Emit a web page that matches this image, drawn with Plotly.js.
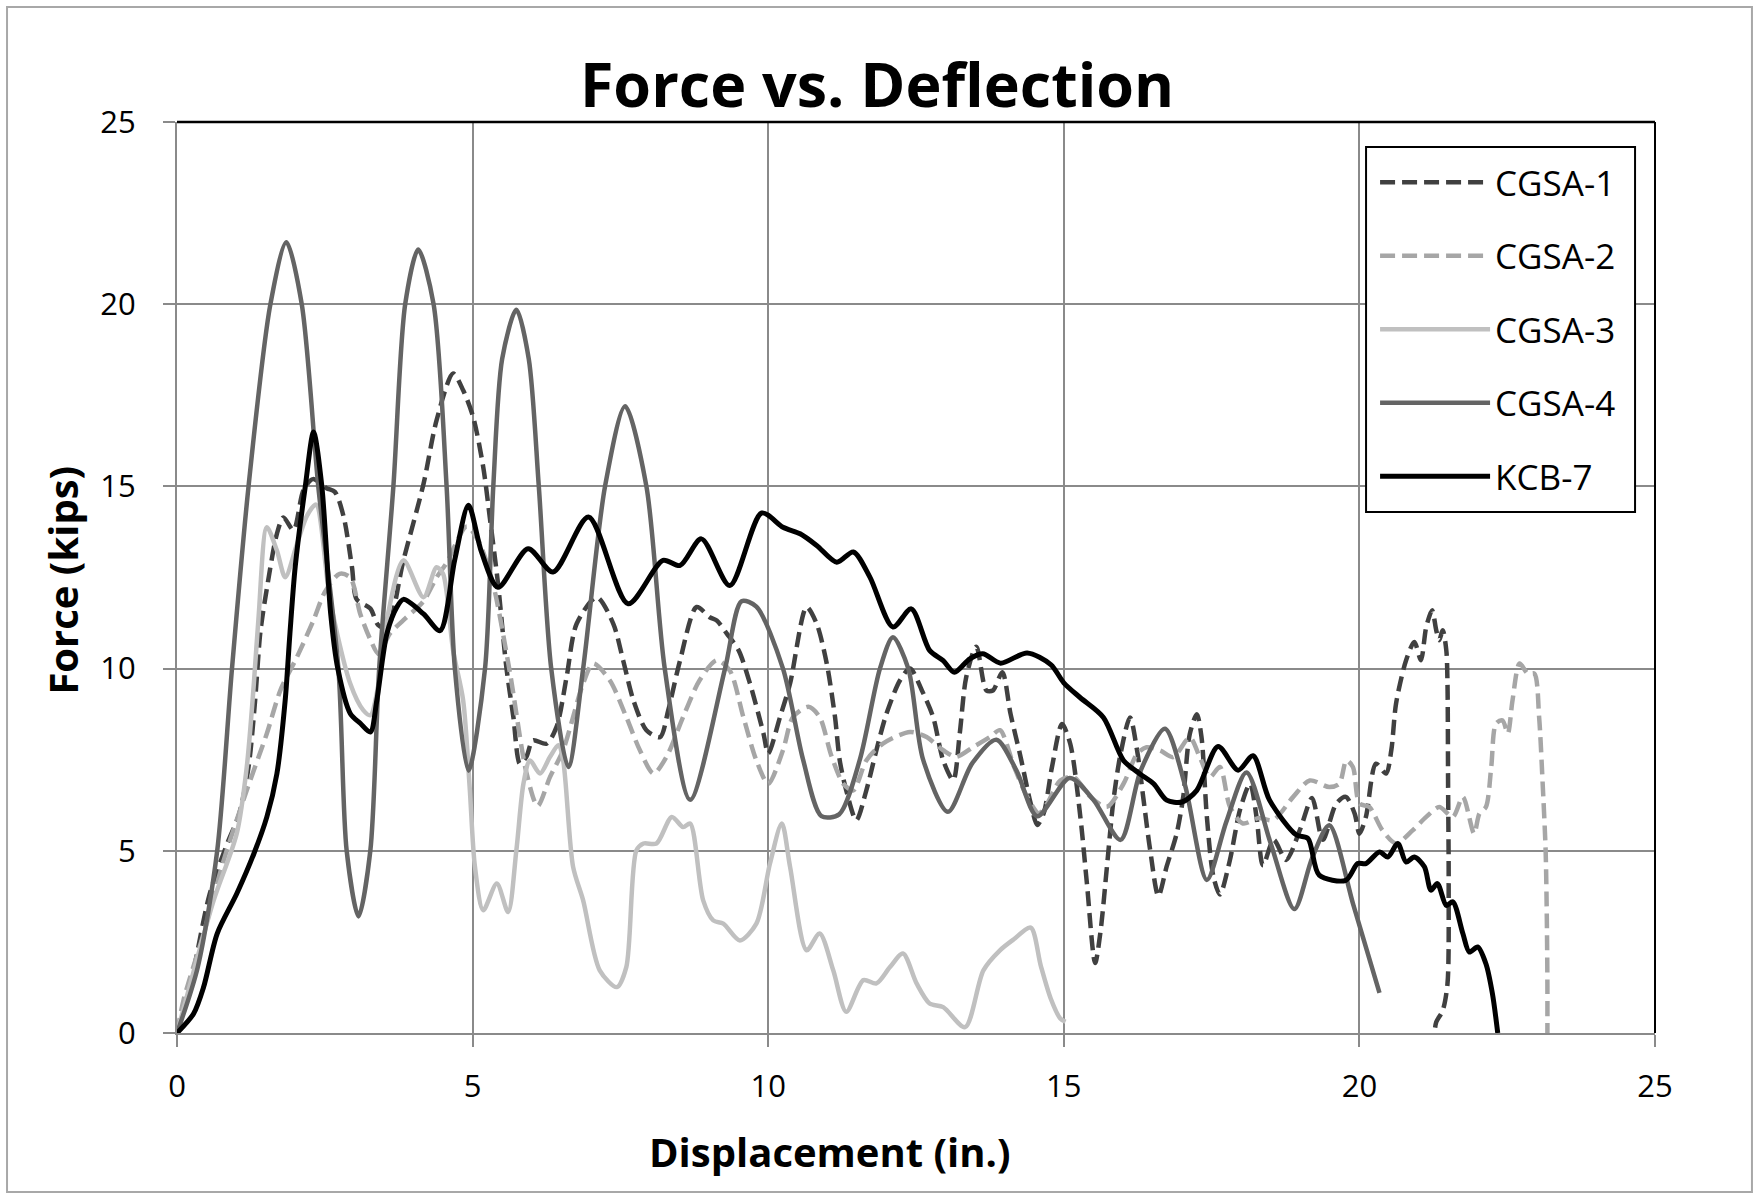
<!DOCTYPE html>
<html>
<head>
<meta charset="utf-8">
<script src="https://cdn.plot.ly/plotly-3.0.1.min.js"></script>
<style>
  html, body { margin: 0; padding: 0; background: #fff; }
  #chart { width: 1754px; height: 1193px; }
</style>
</head>
<body>
<div id="chart"></div>
<script>
// ---- Data (displacement in., force kips) ----
const seriesNames = ['CGSA-1', 'CGSA-2', 'CGSA-3', 'CGSA-4', 'KCB-7'];

const cgsa1X = [0,0.25,0.55,0.85,1.05,1.21,1.32,1.41,1.52,1.69,1.8,1.97,2.14,2.3,2.53,2.67,2.82,2.96,3.04,3.27,3.4,3.55,3.83,4.17,4.39,4.67,4.84,5.01,5.18,5.29,5.43,5.57,5.69,5.8,5.91,6.02,6.25,6.42,6.59,6.76,7.1,7.38,7.55,7.72,7.94,8.17,8.31,8.51,8.79,9.01,9.13,9.3,9.5,9.69,9.92,10.0,10.2,10.37,10.65,10.82,10.99,11.13,11.21,11.32,11.49,11.66,11.83,12.0,12.23,12.4,12.6,12.79,12.96,13.13,13.24,13.35,13.52,13.69,13.8,13.96,14.1,14.27,14.44,14.55,14.66,14.8,14.97,15.11,15.28,15.39,15.53,15.62,15.73,15.84,15.96,16.12,16.24,16.35,16.46,16.6,16.74,16.91,17.02,17.13,17.25,17.33,17.42,17.53,17.64,17.81,17.98,18.15,18.26,18.37,18.55,18.76,19.0,19.2,19.38,19.61,19.77,19.92,20.0,20.11,20.28,20.45,20.54,20.62,20.79,20.93,21.04,21.13,21.23,21.3,21.35,21.41,21.47,21.49,21.5,21.51,21.49,21.41,21.3,21.27];
const cgsa1Y = [0,1.5,3.8,5.2,6.0,7.3,9.1,11.0,12.2,13.7,14.15,13.8,14.9,15.2,14.95,14.85,14.16,12.78,11.9,11.65,11.2,11.1,12.97,15.07,16.81,18.1,17.64,16.9,15.53,14.16,12.33,10.05,8.67,7.39,7.58,8.03,7.94,8.4,9.77,11.23,11.96,11.23,10.2,9.13,8.31,8.12,8.86,10.23,11.69,11.41,11.32,10.96,10.5,9.6,8.22,7.67,8.67,9.59,11.69,11.23,10.14,8.67,7.48,6.66,5.84,6.66,7.76,8.76,9.68,10.0,9.4,8.67,7.48,6.94,8.22,9.77,10.6,9.4,9.4,9.9,8.75,7.57,6.3,5.71,6.03,7.3,8.48,7.93,5.93,4.12,1.92,2.77,4.57,6.39,7.66,8.66,7.75,6.39,5.03,3.76,4.57,5.48,6.48,8.2,8.75,8.11,5.93,4.3,3.8,4.75,6.12,6.84,5.93,4.6,5.3,4.75,5.6,6.45,5.3,6.3,6.48,6.02,5.47,5.93,7.39,7.12,7.76,9.04,10.23,10.73,10.23,11.14,11.6,11.05,10.78,11.05,10.5,9.59,6.84,4.1,1.35,0.62,0.3,0];

const cgsa2X = [0,0.11,0.45,0.79,1.18,1.52,1.75,2.03,2.31,2.5,2.75,2.93,3.1,3.27,3.41,3.6,3.83,4.17,4.39,4.56,4.9,5.1,5.34,5.63,5.91,6.1,6.31,6.53,6.87,7.04,7.32,7.6,7.83,8.06,8.28,8.56,8.84,9.13,9.35,9.58,9.8,10.0,10.25,10.42,10.68,10.87,11.07,11.27,11.44,11.66,11.94,12.4,12.68,12.96,13.18,13.47,13.75,13.92,14.16,14.38,14.58,14.72,14.94,15.17,15.45,15.73,16.01,16.24,16.4,16.63,16.85,17.13,17.3,17.47,17.64,17.81,18.03,18.3,18.54,18.88,19.16,19.49,19.66,19.78,19.89,20.0,20.17,20.39,20.62,20.9,21.13,21.35,21.58,21.75,21.94,22.03,22.14,22.23,22.31,22.42,22.51,22.59,22.71,22.85,22.96,23.04,23.1,23.15,23.17,23.18,23.18];
const cgsa2Y = [0,0.9,2.73,4.74,6.66,8.22,9.41,10.32,11.33,12.1,12.6,12.5,11.5,10.8,10.4,10.96,11.33,11.85,12.5,12.9,13.9,13.5,12.36,9.9,7.15,6.23,7.03,7.76,9.59,10.14,9.68,8.67,7.76,7.12,7.58,8.67,9.68,10.23,9.95,8.67,7.48,6.84,7.76,8.67,8.95,8.67,7.6,6.84,6.66,7.48,7.94,8.26,8.12,7.76,7.58,7.85,8.12,8.31,7.3,6.48,6.03,6.3,6.93,7.02,6.48,6.21,6.84,7.66,7.84,7.75,7.57,8.11,7.57,7.02,7.3,6.21,5.75,5.9,5.84,6.48,6.93,6.75,6.84,7.48,7.3,6.3,6.2,5.56,5.2,5.56,5.93,6.2,5.93,6.48,5.47,6.02,6.2,7.3,8.49,8.58,8.22,9.13,10.14,9.86,9.86,8.67,6.84,5.01,3.18,1.35,0];

const cgsa3X = [0,0.3,0.62,1.01,1.18,1.3,1.38,1.52,1.69,1.83,2.03,2.2,2.35,2.59,2.93,3.15,3.27,3.41,3.55,3.83,4.17,4.39,4.5,4.67,4.84,4.95,5.04,5.18,5.41,5.6,5.74,5.86,5.97,6.14,6.31,6.45,6.53,6.7,6.87,7.15,7.44,7.6,7.77,7.89,8.11,8.37,8.56,8.68,8.9,9.07,9.24,9.52,9.8,10.03,10.23,10.37,10.65,10.87,11.1,11.32,11.61,11.83,12.06,12.28,12.51,12.73,12.96,13.33,13.64,13.92,14.16,14.44,14.61,14.78,14.94,15.03];
const cgsa3Y = [0,1.8,3.64,5.47,7.3,9.59,11.42,13.88,13.24,12.51,13.42,14.2,14.5,11.87,9.59,8.86,8.72,9.59,11.33,12.97,11.96,12.78,12.6,10.5,9.13,6.75,4.56,3.37,4.1,3.32,5.01,6.84,7.48,7.12,7.58,7.9,7.5,4.56,3.64,1.72,1.26,1.81,5.01,5.2,5.2,5.93,5.65,5.75,3.64,3.09,3.0,2.54,3.0,4.65,5.75,4.56,2.27,2.73,1.72,0.58,1.45,1.36,1.81,2.18,1.36,0.81,0.71,0.16,1.72,2.27,2.58,2.89,1.85,0.94,0.4,0.31];

const cgsa4X = [0,0.35,0.68,0.93,1.21,1.58,1.85,2.11,2.39,2.73,2.87,3.07,3.27,3.42,3.66,3.86,4.08,4.34,4.56,4.70,4.93,5.21,5.35,5.5,5.74,5.95,6.12,6.33,6.62,6.87,7.24,7.58,7.94,8.25,8.68,9.27,9.55,9.8,10.25,10.59,10.9,11.2,11.55,11.89,12.11,12.37,12.62,13.04,13.45,13.86,14.2,14.55,15.1,15.5,15.96,16.3,16.71,17.05,17.42,17.75,18.09,18.5,18.9,19.2,19.49,19.9,20.34];
const cgsa4Y = [0,1.8,5,10,15,20,21.7,20,15,10,5,3.2,5,10,15,20,21.5,20,15,10,7.2,10,15,18.5,19.85,18.5,15,10,7.3,10,15,17.2,15,10,6.4,10,11.85,11.7,10,7.5,5.95,6.0,7.5,10,10.86,10,7.5,6.07,7.4,8.05,7.2,5.95,7.0,6.4,5.3,7.2,8.35,6.8,4.2,5.8,7.15,5.2,3.4,4.8,5.7,3.5,1.1];

const kcb7X = [0,0.28,0.45,0.68,1.01,1.30,1.52,1.69,1.83,1.91,2.0,2.17,2.31,2.45,2.6,2.72,2.93,3.1,3.27,3.38,3.55,3.72,3.83,4.17,4.45,4.7,4.93,5.15,5.43,5.94,6.36,6.96,7.63,8.22,8.51,8.87,9.35,9.89,10.25,10.54,10.82,11.16,11.44,11.72,12.11,12.42,12.73,12.96,13.15,13.41,13.63,13.93,14.38,14.78,15.0,15.28,15.67,16.01,16.29,16.52,16.74,17.0,17.25,17.61,17.95,18.2,18.48,18.93,19.13,19.32,19.77,19.97,20.11,20.34,20.48,20.65,20.79,20.93,21.1,21.21,21.32,21.47,21.58,21.75,21.86,22.0,22.14,22.25,22.34];
const kcb7Y = [0,0.53,1.26,2.73,3.82,4.92,5.93,7.12,9.13,10.96,12.8,15,16.49,15,11.5,10,8.77,8.5,8.26,9.13,10.96,11.69,11.9,11.5,11.04,13.0,14.48,13.2,12.23,13.29,12.65,14.16,11.78,12.97,12.83,13.56,12.28,14.27,13.88,13.7,13.38,12.92,13.2,12.51,11.14,11.64,10.5,10.22,9.9,10.27,10.41,10.15,10.43,10.11,9.61,9.2,8.66,7.48,7.11,6.84,6.39,6.34,6.66,7.86,7.21,7.61,6.39,5.44,5.34,4.33,4.19,4.65,4.65,4.97,4.83,5.2,4.69,4.83,4.56,3.92,4.1,3.5,3.6,2.73,2.22,2.36,1.9,1.08,0];

const axisTicks = [0, 5, 10, 15, 20, 25];
const titleText = 'Force vs. Deflection';
const xTitleText = 'Displacement (in.)';
const yTitleText = 'Force (kips)';

// ---- Styling ----
const FONT = 'Open Sans, Noto Sans, Liberation Sans, sans-serif';
const styles = [
  {color: '#404040', dash: '15px,7px', width: 4.5},
  {color: '#a6a6a6', dash: '15px,7px', width: 4.5},
  {color: '#c0c0c0', dash: 'solid', width: 4.5},
  {color: '#646464', dash: 'solid', width: 4.5},
  {color: '#000000', dash: 'solid', width: 5}
];
const xs = [cgsa1X, cgsa2X, cgsa3X, cgsa4X, kcb7X];
const ys = [cgsa1Y, cgsa2Y, cgsa3Y, cgsa4Y, kcb7Y];

const traces = seriesNames.map((name, i) => ({
  type: 'scatter',
  mode: 'lines',
  name: name,
  legendgroup: 'g' + i,
  x: xs[i],
  y: ys[i],
  line: {color: styles[i].color, dash: styles[i].dash, width: styles[i].width, shape: 'spline', smoothing: 0.8},
  hoverinfo: 'skip'
}));

const gridColor = '#8a8a8a';

const layout = {
  width: 1754,
  height: 1193,
  margin: {l: 177, r: 99, t: 122, b: 160, pad: 0},
  paper_bgcolor: '#ffffff',
  plot_bgcolor: '#ffffff',
  font: {family: FONT, color: '#000'},
  showlegend: true,
  title: {
    text: '<b>' + titleText + '</b>',
    font: {family: FONT, size: 61, color: '#000'},
    x: 0.5, xref: 'container', xanchor: 'center',
    y: 0.928, yref: 'container', yanchor: 'middle'
  },
  xaxis: {
    range: [0, 25],
    tickvals: axisTicks,
    ticktext: axisTicks.map(String),
    showgrid: true, gridcolor: gridColor, gridwidth: 2,
    showline: true, linecolor: gridColor, linewidth: 2,
    ticks: 'outside', ticklen: 12, tickwidth: 2, tickcolor: gridColor,
    ticklabelstandoff: 13,
    tickfont: {family: FONT, size: 31, color: '#000'},
    zeroline: false, fixedrange: true
  },
  yaxis: {
    range: [0, 25],
    tickvals: axisTicks,
    ticktext: axisTicks.map(String),
    showgrid: true, gridcolor: gridColor, gridwidth: 2,
    showline: true, linecolor: gridColor, linewidth: 2,
    ticks: 'outside', ticklen: 12, tickwidth: 2, tickcolor: gridColor,
    ticklabelstandoff: 21,
    tickfont: {family: FONT, size: 31, color: '#000'},
    zeroline: false, fixedrange: true
  },
  legend: {
    x: 0.8106, y: 0.966, xanchor: 'left', yanchor: 'top',
    xref: 'paper', yref: 'paper',
    bgcolor: 'rgba(0,0,0,0)', borderwidth: 0,
    font: {family: FONT, size: 35, color: '#000'},
    itemwidth: 110,
    tracegroupgap: 25,
    traceorder: 'grouped'
  },
  annotations: [
    {
      text: '<b>' + xTitleText + '</b>', xref: 'paper', yref: 'paper',
      x: 0.4418, y: -0.1306, xanchor: 'center', yanchor: 'middle',
      showarrow: false, font: {family: FONT, size: 40, color: '#000'}
    },
    {
      text: '<b>' + yTitleText + '</b>', xref: 'paper', yref: 'paper',
      x: -0.0781, y: 0.4972, xanchor: 'center', yanchor: 'middle', textangle: -90,
      showarrow: false, font: {family: FONT, size: 40, color: '#000'}
    }
  ],
  shapes: [
    // plot-area top and right border (dark)
    {type: 'line', xref: 'paper', yref: 'paper', x0: 0, x1: 1, y0: 1, y1: 1, line: {color: '#000', width: 2.5}},
    {type: 'line', xref: 'paper', yref: 'paper', x0: 1, x1: 1, y0: 0, y1: 1, line: {color: '#000', width: 2}},
    // legend frame
    {type: 'rect', xref: 'paper', yref: 'paper', x0: 0.8045, x1: 0.9865, y0: 0.5719, y1: 0.9726,
     line: {color: '#000', width: 2}, fillcolor: '#ffffff', layer: 'above'},
    // outer chart frame
    {type: 'rect', xref: 'paper', yref: 'paper', x0: -0.1150, x1: 1.0656, y0: -0.1745, y1: 1.1262,
     line: {color: '#a8a8a8', width: 2}, fillcolor: 'rgba(0,0,0,0)', layer: 'below'}
  ]
};

Plotly.newPlot('chart', traces, layout, {staticPlot: true, displayModeBar: false});
</script>
</body>
</html>
